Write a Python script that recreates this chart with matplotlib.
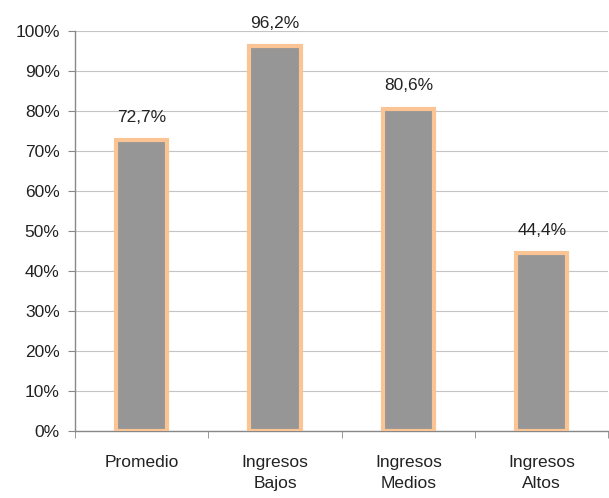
import numpy as np
import matplotlib.pyplot as plt

plt.rcParams['font.family'] = ['Liberation Sans', 'DejaVu Sans']

# DATA
categories = ["Promedio", "Ingresos\nBajos", "Ingresos\nMedios", "Ingresos\nAltos"]
values = [72.7, 96.2, 80.6, 44.4]
value_labels = ["72,7%", "96,2%", "80,6%", "44,4%"]
y_ticks = [0, 10, 20, 30, 40, 50, 60, 70, 80, 90, 100]

fig = plt.figure(figsize=(6.09, 4.98), dpi=100)
ax = fig.add_axes([0.123, 0.1345, 0.876, 0.8033])

x = np.arange(len(categories))
ax.bar(x, values, width=0.385, color="#969696", edgecolor="#FAC494", linewidth=3, zorder=3)

for xi, v, lab in zip(x, values, value_labels):
    ax.annotate(lab, (xi, v), xytext=(0, 11), textcoords="offset points",
                ha="center", va="bottom", fontsize=12.5, color="#222222")

ax.set_xlim(-0.5, len(categories) - 0.5)
ax.set_ylim(0, 100)
ax.set_yticks(y_ticks)
ax.set_yticklabels([f"{t}%" for t in y_ticks], fontsize=12.5, color="#222222")
ax.yaxis.grid(True, color="#C4C4C4", linewidth=0.8, zorder=0)

# category labels centred, ticks at the boundaries
ax.set_xticks(x)
ax.set_xticklabels(categories, fontsize=12.5, color="#222222", linespacing=1.5)
ax.tick_params(axis="x", length=0, pad=17)
ax.set_xticks(np.arange(len(categories) + 1) - 0.5, minor=True)
ax.tick_params(axis="x", which="minor", length=5, color="#888888")
ax.tick_params(axis="y", length=5, color="#888888", pad=6)

for side in ["top", "right"]:
    ax.spines[side].set_visible(False)
for side in ["left", "bottom"]:
    ax.spines[side].set_color("#888888")
    ax.spines[side].set_linewidth(1)

fig.savefig("out.png", dpi=100)
